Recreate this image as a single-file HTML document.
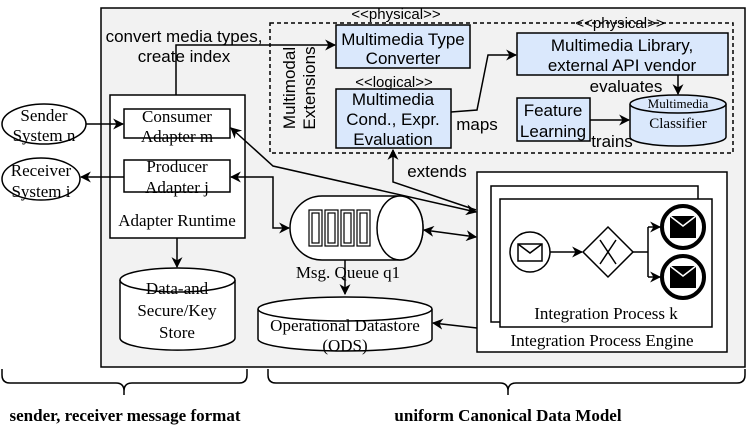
<!DOCTYPE html>
<html><head><meta charset="utf-8"><style>
html,body{margin:0;padding:0;background:#fff}
svg{display:block}
.s{font-family:"Liberation Serif",serif;font-size:17px}
.a{font-family:"Liberation Sans",sans-serif;font-size:17px}
</style></head><body>
<svg width="747" height="445" viewBox="0 0 747 445" xmlns="http://www.w3.org/2000/svg">
<defs>
<marker id="ar" viewBox="0 0 10 10" refX="9" refY="5" markerWidth="11" markerHeight="11" markerUnits="userSpaceOnUse" orient="auto-start-reverse"><path d="M0,0 L10,5 L0,10 L3,5 z" fill="#000"/></marker>
</defs>
<g stroke="#000" stroke-width="1.5" fill="none">
<rect x="101" y="8" width="644" height="359" fill="#f2f2f2"/>
<rect x="270" y="23" width="463" height="130" stroke-dasharray="4,3"/>
<path d="M2,369 v6 q0,8 8,8 h106 q8,0 8,8 v4 M124,395 v-4 q0,-8 8,-8 h107 q8,0 8,-8 v-6"/>
<path d="M268,369 v6 q0,8 8,8 h224 q8,0 8,8 v4 M508,395 v-4 q0,-8 8,-8 h221 q8,0 8,-8 v-6"/>
<ellipse cx="44" cy="124" rx="42" ry="20" fill="#fff"/>
<ellipse cx="41" cy="179" rx="39" ry="21" fill="#fff"/>
<rect x="110" y="95" width="135" height="143" fill="#fff"/>
<rect x="124" y="109" width="106" height="29" fill="#fff"/>
<rect x="124" y="160" width="106" height="32" fill="#fff"/>
<rect x="336" y="25" width="134" height="43" fill="#dae8fc"/>
<rect x="336" y="89" width="115" height="59" fill="#dae8fc"/>
<rect x="517" y="33" width="211" height="42" fill="#dae8fc"/>
<rect x="517" y="98" width="73" height="43" fill="#dae8fc"/>
<path d="M630,104 v33 a48,9 0 0 0 96,0 v-33" fill="#dae8fc"/>
<ellipse cx="678" cy="104" rx="48" ry="9" fill="#dae8fc"/>
<path d="M120,280 v58 a57,12 0 0 0 115,0 v-58" fill="#fff"/>
<ellipse cx="177.5" cy="280" rx="57.5" ry="12" fill="#fff"/>
<path d="M258,309 v30 a87,12 0 0 0 174,0 v-30" fill="#fff"/>
<ellipse cx="345" cy="309" rx="87" ry="12" fill="#fff"/>
<path d="M322,196 h78 a23,32 0 0 1 0,64 h-78 a32,32 0 0 1 0,-64 z" fill="#fff"/>
<ellipse cx="400" cy="228" rx="23" ry="32" fill="#fff"/>
<g stroke-width="1.2">
<rect x="309" y="210" width="13" height="36" fill="#fff"/><rect x="312" y="213" width="7" height="30"/>
<rect x="325" y="210" width="13" height="36" fill="#fff"/><rect x="328" y="213" width="7" height="30"/>
<rect x="341" y="210" width="13" height="36" fill="#fff"/><rect x="344" y="213" width="7" height="30"/>
<rect x="357" y="210" width="13" height="36" fill="#fff"/><rect x="360" y="213" width="7" height="30"/>
</g>
<rect x="477" y="172" width="250" height="180" fill="#fff"/>
<rect x="491" y="186" width="207" height="136" fill="#fff"/>
<rect x="500" y="199" width="212" height="128" fill="#fff"/>
<circle cx="530" cy="252" r="20" fill="#fff"/>
<rect x="518" y="244" width="24" height="17" fill="#fff"/>
<path d="M518,244 l12,9 l12,-9"/>
<path d="M608,227 l25,25 l-25,25 l-25,-25 z" fill="#fff"/>
<path d="M600,240 l16,24 M616,240 l-16,24"/>
<circle cx="683" cy="227" r="21" stroke-width="4" fill="#fff"/>
<circle cx="683" cy="277" r="21" stroke-width="4" fill="#fff"/>
<path d="M550,252 h32" marker-end="url(#ar)"/>
<path d="M633,252 h15 v-25 M648,252 v25"/>
<path d="M648,227 h12" marker-end="url(#ar)"/>
<path d="M648,277 h12" marker-end="url(#ar)"/>
<path d="M86,124 h37" marker-end="url(#ar)"/>
<path d="M124,177 h-43" marker-end="url(#ar)"/>
<path d="M176,95 v-50 h159" marker-end="url(#ar)"/>
<path d="M177,238 v29" marker-end="url(#ar)"/>
<path d="M345,260 v34" marker-end="url(#ar)"/>
<path d="M477,328 l-44,-5" marker-end="url(#ar)"/>
<path d="M231,177 h42 v51 h16" marker-start="url(#ar)" marker-end="url(#ar)"/>
<path d="M424,230 l52,7" marker-start="url(#ar)" marker-end="url(#ar)"/>
<path d="M231,128 l42,38 l203,46" marker-start="url(#ar)" marker-end="url(#ar)"/>
<path d="M393,150 v32 l83,28" marker-start="url(#ar)"/>
<path d="M451,112 l26,-2 l11,-55 h28" marker-end="url(#ar)"/>
<path d="M678,75 v19" marker-end="url(#ar)"/>
<path d="M590,120 h39" marker-end="url(#ar)"/>
</g>
<g fill="#000">
<path d="M670,216 h26 v22 h-26 z"/>
<path d="M670,266 h26 v22 h-26 z"/>
</g>
<path d="M670,216 l13,10 l13,-10 M670,266 l13,10 l13,-10" stroke="#fff" stroke-width="1.5" fill="none"/>
<g class="s" text-anchor="middle">
<text x="44" y="121">Sender</text><text x="44" y="141">System n</text>
<text x="41" y="176">Receiver</text><text x="41" y="197">System i</text>
<text x="177" y="122">Consumer</text><text x="177" y="142">Adapter m</text>
<text x="177" y="172">Producer</text><text x="177" y="193">Adapter j</text>
<text x="177" y="226">Adapter Runtime</text>
<text x="177" y="294">Data-and</text><text x="177" y="316">Secure/Key</text><text x="177" y="338">Store</text>
<text x="348" y="278">Msg. Queue q1</text>
<text x="345" y="331">Operational Datastore</text><text x="345" y="351">(ODS)</text>
<text x="606" y="319">Integration Process k</text>
<text x="602" y="346">Integration Process Engine</text>
<text x="678" y="108" font-size="13">Multimedia</text><text x="678" y="128" font-size="15">Classifier</text>
<text x="125" y="421" font-weight="bold">sender, receiver message format</text>
<text x="508" y="421" font-weight="bold">uniform Canonical Data Model</text>
</g>
<g class="a" text-anchor="middle">
<text x="184" y="42">convert media types,</text><text x="184" y="62">create index</text>
<text x="403" y="45">Multimedia Type</text><text x="403" y="64">Converter</text>
<text x="396" y="19" font-size="15">&lt;&lt;physical&gt;&gt;</text>
<text x="394" y="87" font-size="15">&lt;&lt;logical&gt;&gt;</text>
<text x="393" y="105">Multimedia</text><text x="393" y="125">Cond., Expr.</text><text x="393" y="145">Evaluation</text>
<text x="622" y="51">Multimedia Library,</text><text x="622" y="71">external API vendor</text>
<text x="620" y="28" font-size="15">&lt;&lt;physical&gt;&gt;</text>
<text x="626" y="92">evaluates</text>
<text x="553" y="116">Feature</text><text x="553" y="137">Learning</text>
<text x="612" y="147">trains</text>
<text x="477" y="130">maps</text>
<text x="437" y="177">extends</text>
<text transform="translate(295,88) rotate(-90)">Multimodal</text>
<text transform="translate(315,88) rotate(-90)">Extensions</text>
</g>
</svg>
</body></html>
